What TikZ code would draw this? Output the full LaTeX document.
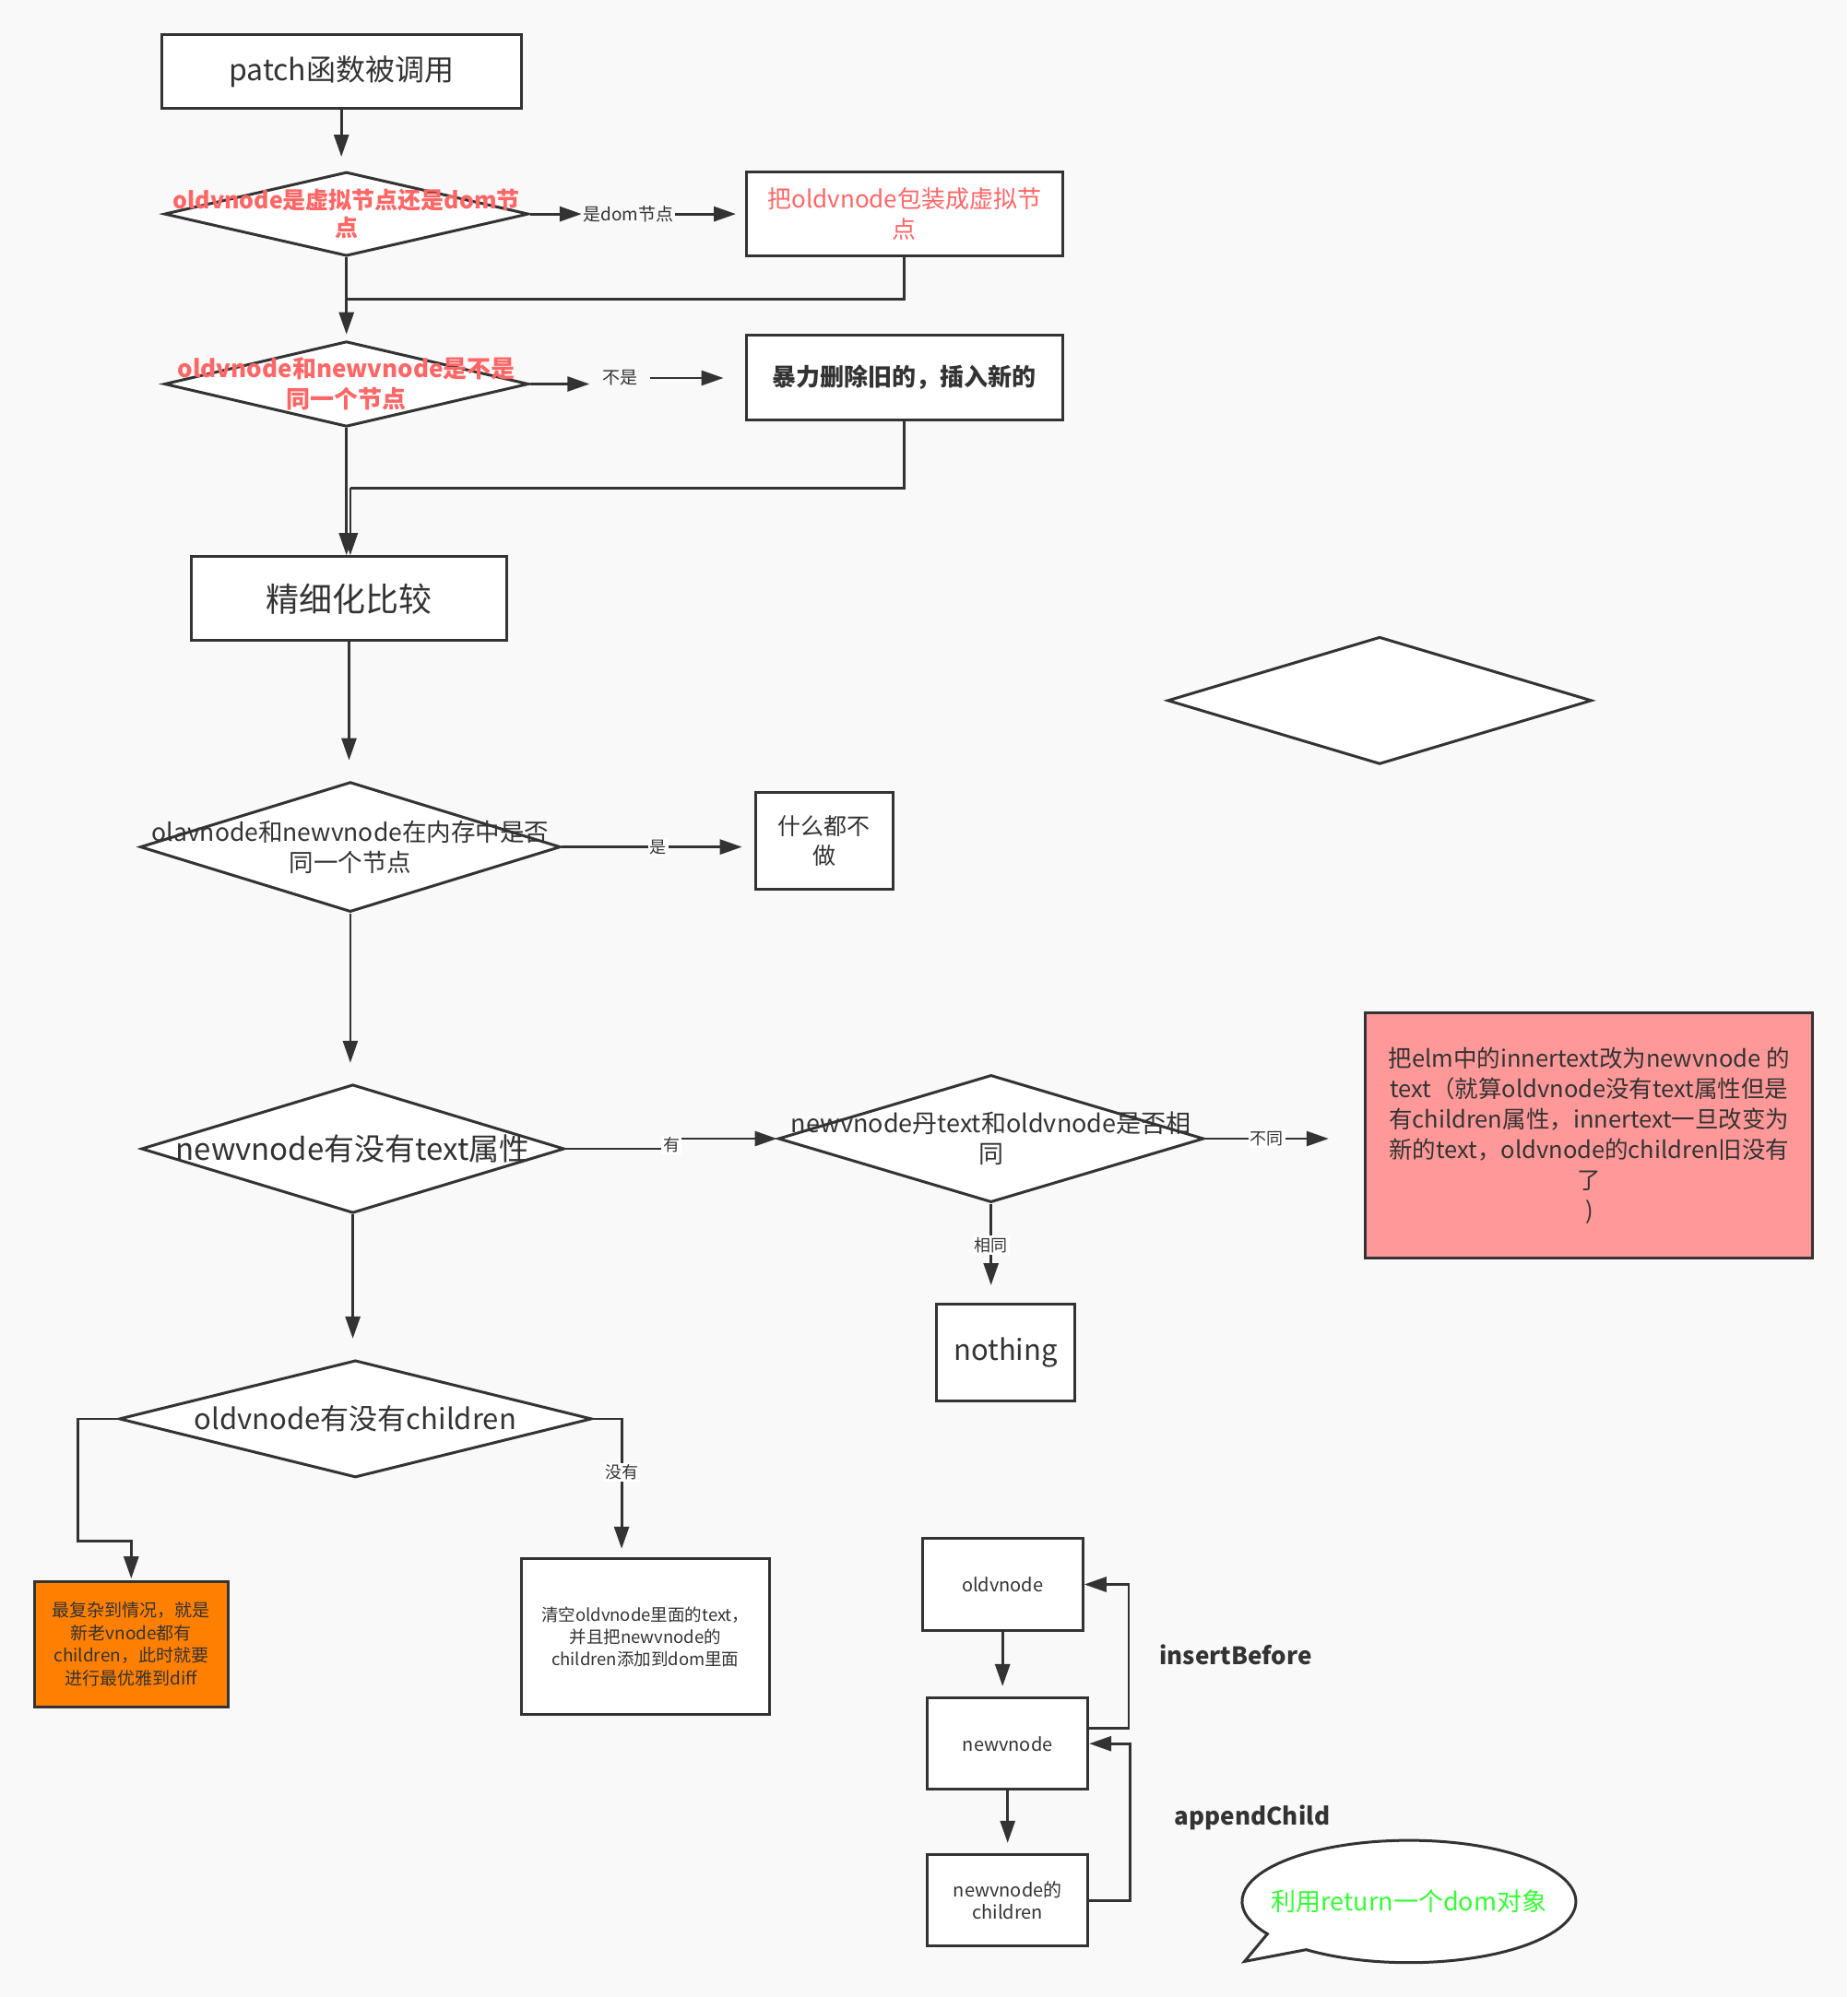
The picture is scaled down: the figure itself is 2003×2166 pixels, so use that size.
\documentclass[tikz,border=0pt]{standalone}
\usepackage{fontspec}
\setmainfont{Noto Sans CJK SC}
\usetikzlibrary{shapes.geometric,arrows.meta}
\definecolor{bg}{HTML}{F9F9F9}
\definecolor{ln}{HTML}{333333}
\definecolor{rtxt}{HTML}{FF6666}
\definecolor{pinkfill}{HTML}{FF9999}
\definecolor{orangefill}{HTML}{FF8000}
\definecolor{gtxt}{HTML}{33FF33}
\newcommand\fs[2]{\fontsize{#1}{#2}\selectfont}
\begin{document}
\begin{tikzpicture}[x=1pt,y=1pt,
  box/.style={draw=ln, line width=3pt, fill=white, rectangle, inner sep=0pt, align=center, text=ln},
  dia/.style={draw=ln, line width=3pt, fill=white, diamond, inner sep=0pt},
  dtxt/.style={align=center, text=ln, inner sep=0pt},
  conn/.style={draw=ln, line width=2.8pt},
  arr/.style={conn, -{Triangle[length=24pt,width=16pt]}},
  lbl/.style={fill=white, inner sep=2pt, text=ln, font=\fs{18}{22}},
  lbl0/.style={inner sep=0pt, text=ln, font=\fs{19}{22}},
]
\fill[bg] (0,0) rectangle (2003,-2166);
\useasboundingbox (0,0) rectangle (2003,-2166);

% top
\node[box, minimum width=389.6pt, minimum height=80.1pt, font=\fs{32}{38}] (patch) at (370.2,-77.4) {patch函数被调用};
\node[dia, minimum width=395pt, minimum height=91.2pt,
  label={[dtxt, text=rtxt, font=\fs{25}{30}\bfseries]center:{oldvnode是虚拟节点还是dom节\\点}}] (d1) at (375.7,-232.1) {};
\node[box, minimum width=342.6pt, minimum height=91.2pt, text=rtxt, font=\fs{26}{33}] (b1) at (980.8,-232.1) {把oldvnode包装成虚拟节\\点};
\node[lbl0, minimum width=101pt] (l1) at (681.5,-232.1) {是dom节点};
\draw[arr, shorten >=15pt] (patch.south) -- (patch.south |- d1.north);
\draw[arr] (d1.east) -- (l1.west);
\draw[arr, shorten >=10pt] (l1.east) -- (b1.west);

\node[dia, minimum width=395pt, minimum height=92.6pt,
  label={[dtxt, text=rtxt, font=\fs{26}{33}\bfseries]center:{oldvnode和newvnode是不是\\同一个节点}}] (d2) at (375.7,-416.5) {};
\coordinate (m1) at (375.7,-324.6);
\draw[conn] (b1.south) |- (m1);
\draw[arr, shorten >=6pt] (d1.south) -- (d2.north);

\node[lbl0, minimum width=65pt] (l2) at (672,-410) {不是};
\coordinate (c2) at (784.6,-410);
\node[box, minimum width=342.6pt, minimum height=92.6pt, font=\fs{26}{33}\bfseries] (b2) at (980.8,-409.6) {暴力删除旧的，插入新的};
\draw[arr] (d2.east) -- (d2.east -| l2.west);
\draw[arr] (l2.east) -- (c2);

\node[box, minimum width=342.6pt, minimum height=91.2pt, font=\fs{36}{42}] (p) at (378.5,-649.3) {精细化比较};
\coordinate (m2) at (379.9,-529.1);
\draw[conn] (b2.south) |- (m2);
\draw[arr] (m2) -- (m2 |- p.north);
\draw[arr] (d2.south) -- (d2.south |- p.north);

% middle
\node[dia, minimum width=455.8pt, minimum height=140.9pt,
  label={[dtxt, font=\fs{26.5}{33}]center:{olavnode和newvnode在内存中是否\\同一个节点}}] (d3) at (379.9,-918.6) {};
\draw[arr, shorten >=22pt] (p.south) -- (p.south |- d3.north);
\node[box, minimum width=149.2pt, minimum height=105pt, font=\fs{25}{32}] (n1) at (893.8,-911.7) {什么都不\\做};
\draw[arr, shorten >=13pt] (d3.east) -- (d3.east -| n1.west) node[lbl, pos=0.5] (lshi) {是};

\node[dia, minimum width=460pt, minimum height=138.1pt] (empty) at (1496.1,-759.8) {};

\node[dia, minimum width=458.7pt, minimum height=139.5pt,
  label={[dtxt, font=\fs{33}{40}]center:{newvnode有没有text属性}}] (d4) at (382.6,-1246) {};
\draw[arr, shorten >=22pt] (d3.south) -- (d3.south |- d4.north);

\node[dia, minimum width=461.4pt, minimum height=138.1pt,
  label={[dtxt, font=\fs{27}{33}]center:{newvnode丹text和oldvnode是否相\\同}}] (d5) at (1074.7,-1235) {};
\coordinate (k1) at (728,-1246);
\coordinate (k2) at (728,-1235);
\draw[arr] (d4.east) -- (k1) -- (k2) -- (d5.west);
\node[lbl] (lyou) at (728,-1242) {有};

\coordinate (c3) at (1440.8,-1235);
\draw[arr] (d5.east) -- (c3) node[lbl, midway] (lbt) {不同};

\node[box, minimum width=150.6pt, minimum height=105pt, font=\fs{31}{36}] (nothing) at (1090.6,-1467) {nothing};
\draw[arr, shorten >=19pt] (d5.south) -- (d5.south |- nothing.north) node[lbl, pos=0.42] (lxt) {相同};

\node[box, fill=pinkfill, minimum width=484.8pt, minimum height=266.6pt, font=\fs{25.5}{33}] (rbox) at (1723.3,-1231.5)
 {把elm中的innertext改为newvnode 的\\text（就算oldvnode没有text属性但是\\有children属性，innertext一旦改变为\\新的text，oldvnode的children旧没有\\了\\)};

% bottom left
\node[dia, minimum width=512.5pt, minimum height=127.1pt,
  label={[dtxt, font=\fs{31}{38}]center:{oldvnode有没有children}}] (d6) at (385.4,-1538.9) {};
\draw[arr, shorten >=22pt] (d4.south) -- (d4.south |- d6.north);

\node[box, fill=orangefill, minimum width=210pt, minimum height=135.4pt, font=\fs{19}{24.5}] (orange) at (142.3,-1783.4)
 {最复杂到情况，就是\\新老vnode都有\\children，此时就要\\进行最优雅到diff};
\coordinate (j1) at (84.3,-1671.5);
\draw[arr, shorten >=2pt] (d6.west) -- (d6.west -| j1) -- (j1) -- (j1 -| orange.north) -- (orange.north);

\node[box, minimum width=269.4pt, minimum height=168.6pt, font=\fs{18.5}{24.2}] (wbox) at (699.7,-1775.1)
 {清空oldvnode里面的text，\\并且把newvnode的\\children添加到dom里面};
\coordinate (j2) at (674.1,-1679.8);
\draw[arr] (d6.east) -| (j2);
\node[lbl] (lmy) at (674.1,-1597) {没有};

% bottom right
\node[box, minimum width=174.1pt, minimum height=99.5pt, font=\fs{20}{24}] (ov) at (1087.2,-1718.5) {oldvnode};
\node[box, minimum width=174pt, minimum height=99.5pt, font=\fs{20}{24}] (nn) at (1092.7,-1891.2) {newvnode};
\node[box, minimum width=174pt, minimum height=99.5pt, font=\fs{20}{23.5}] (ch) at (1092.7,-2061.1) {newvnode的\\children};
\draw[arr, shorten >=11pt] (ov.south) -- (ov.south |- nn.north);
\draw[arr, shorten >=11pt] (nn.south) -- (nn.south |- ch.north);
\draw[arr] ([yshift=16.6pt]nn.east) -- ++(42.8,0) |- (ov.east);
\draw[arr] (ch.east) -- ++(44.3,0) |- (nn.east);
\node[text=ln, font=\fs{26}{30}\bfseries] (ib) at (1340,-1794.4) {insertBefore};
\node[text=ln, font=\fs{26}{30}\bfseries] (ac) at (1358,-1971.3) {appendChild};

\coordinate (tip) at (1349.6,-2127.4);
\draw[draw=ln, line width=3pt, fill=white] (1527.9,-2062.4) ++(232:181pt and 66.3pt)
  arc[start angle=232, end angle=572, x radius=181pt, y radius=66.3pt] -- (tip) -- cycle;
\node[text=gtxt, font=\fs{27}{32}] (bub) at (1527.9,-2062.4) {利用return一个dom对象};
\end{tikzpicture}
\end{document}
